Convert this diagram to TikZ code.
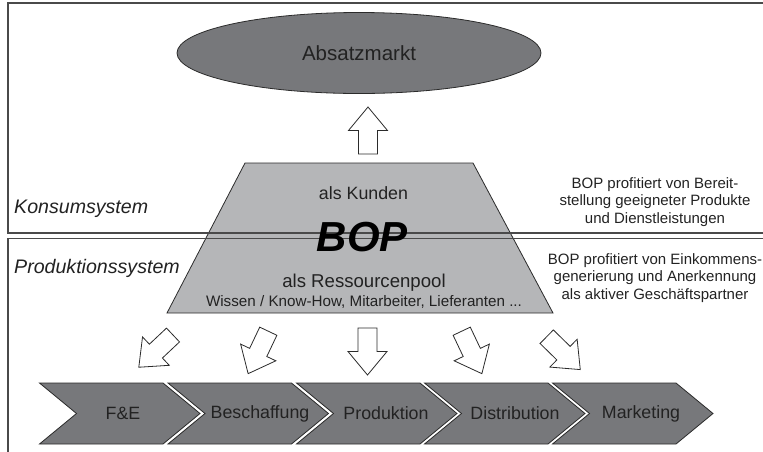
\documentclass[tikz,border=0pt]{standalone}
\usepackage{fontspec}
\setmainfont{Liberation Sans}
\usetikzlibrary{shapes.geometric,calc}
\definecolor{darkfill}{HTML}{77787B}
\definecolor{lightfill}{HTML}{B5B6B8}
\definecolor{framecol}{HTML}{4A4A4A}
\definecolor{edgecol}{HTML}{2B2B2B}
\definecolor{txtcol}{HTML}{222222}
\newcommand{\fsz}[1]{\fontsize{#1}{#1}\selectfont}
\newcommand{\blockarrow}[2]{% tail coordinate name, angle
  \begin{scope}[shift={(#1)},rotate=#2]
    \draw[arrowshape] (0,-9.5) -- (23.5,-9.5) -- (23.5,-19.5) -- (47,0) -- (23.5,19.5) -- (23.5,9.5) -- (0,9.5) -- cycle;
  \end{scope}}
\begin{document}
\begin{tikzpicture}[x=1pt,y=-1pt,
  framestyle/.style={draw=framecol,line width=1.4pt},
  arrowshape/.style={draw=edgecol,fill=white,line width=0.8pt,line join=miter},
  chev/.style={draw=edgecol,fill=darkfill,line width=0.8pt,line join=miter},
  chevtext/.style={text=txtcol,font=\fsz{17.8},inner sep=0pt},
  sidetext/.style={text=txtcol,font=\fontsize{15}{17.5}\selectfont,align=center,inner sep=0pt},
  systext/.style={text=txtcol,font=\fsz{19.6}\itshape,anchor=west,inner sep=0pt}]
\useasboundingbox (0,0) rectangle (763,451);
\clip (0,0) rectangle (763,451);

% Absatzmarkt
\node[ellipse,draw=edgecol,fill=darkfill,line width=0.8pt,minimum width=364pt,minimum height=81pt,inner sep=0pt,
      text=txtcol,font=\fsz{20.5}] (markt) at (359,53) {Absatzmarkt};

% up arrow
\coordinate (uptail) at (368,154);
\blockarrow{uptail}{90}

% BOP trapezoid
\draw[draw=edgecol,fill=lightfill,line width=0.8pt,line join=miter] (245,163) -- (473,163) -- (553,313) -- (167,313) -- cycle;

% frames
\draw[framestyle,line width=2.4pt] (8,3) -- (775,3);
\draw[framestyle] (8,2) -- (8,233) -- (775,233);
\draw[framestyle] (8,460) -- (8,238.5) -- (775,238.5);

% trapezoid texts
\node[text=txtcol,font=\fsz{17.8},inner sep=0pt] (kunden) at (363.5,193) {als Kunden};
\node[text=black,font=\fsz{42}\bfseries\itshape,inner sep=0pt] (bop) at (362.5,237) {BOP};
\node[text=txtcol,font=\fsz{18.6},inner sep=0pt] (pool) at (364,283) {als Ressourcenpool};
\node[text=txtcol,font=\fsz{15.2},inner sep=0pt] (wissen) at (364,302) {Wissen / Know-How, Mitarbeiter, Lieferanten ...};

% system labels
\node[systext] (konsum) at (14,209) {Konsumsystem};
\node[systext] (prod) at (14,268) {Produktionssystem};

% side texts
\node[sidetext] (side1) at (655,202) {BOP profitiert von Bereit-\\stellung geeigneter Produkte\\und Dienstleistungen};
\node[sidetext] (side2) at (655,278) {BOP profitiert von Einkommens-\\generierung und Anerkennung\\als aktiver Geschäftspartner};

% down arrows
\coordinate (t1) at (173,335);
\coordinate (t2) at (268.3,331.2);
\coordinate (t3) at (367.5,328);
\coordinate (t4) at (461.7,331.2);
\coordinate (t5) at (546.7,336.7);
\blockarrow{t1}{-136.7}
\blockarrow{t2}{-115.4}
\blockarrow{t3}{-90}
\blockarrow{t4}{-64.6}
\blockarrow{t5}{-44.4}

% value chain
\foreach \L/\tx/\lab/\nm in {39.5/123/F\&E/fe, 168/260/Beschaffung/besch, 296.5/386/Produktion/produ, 424.5/515/Distribution/distr, 552.5/641/Marketing/markg}{
  \draw[chev] (\L,383) -- ({\L+123.5},383) -- ({\L+160.5},413.5) -- ({\L+123.5},444) -- (\L,444) -- ({\L+37},413.5) -- cycle;
  \node[chevtext] (\nm) at (\tx,413.5) {\lab};
}
\end{tikzpicture}
\end{document}
